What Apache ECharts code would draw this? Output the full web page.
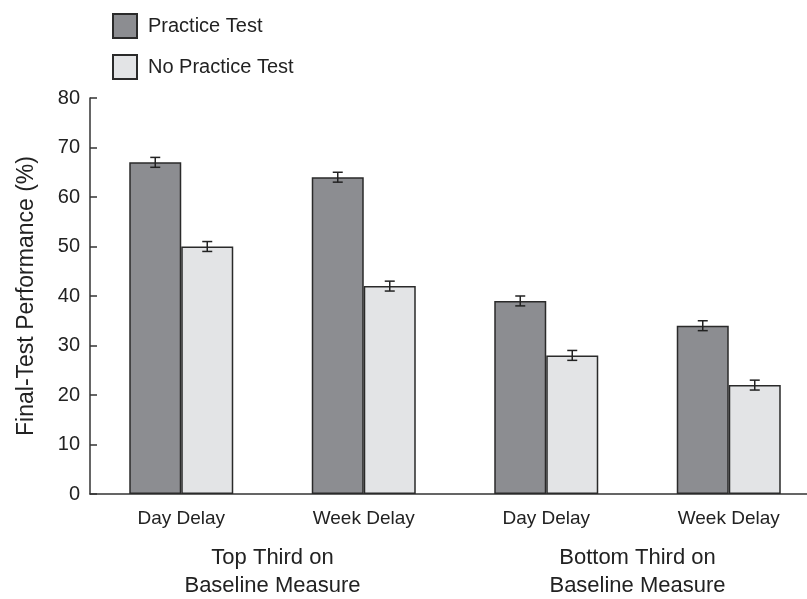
<!DOCTYPE html>
<html><head><meta charset="utf-8">
<script src="https://cdn.jsdelivr.net/npm/echarts@6/dist/echarts.min.js"></script>
<style>html,body{margin:0;padding:0;background:#fff}#c{width:807px;height:599px}</style>
</head><body><div id="c"></div>
<script>
var categories = ['Day Delay', 'Week Delay', 'Day Delay', 'Week Delay'];
var groupLabels = ['Top Third on\nBaseline Measure', 'Bottom Third on\nBaseline Measure'];
var practice = [67, 64, 39, 34];
var practiceErr = [1, 1, 1, 1];
var noPractice = [50, 42, 28, 22];
var noPracticeErr = [1, 1, 1, 1];
var yTicks = [0, 10, 20, 30, 40, 50, 60, 70, 80];

var FONT = '"Liberation Sans Narrow", "Liberation Sans", Arial, sans-serif';
var BW = 52;

function errSeries(vals, errs, off) {
  return {
    type: 'custom', xAxisIndex: 0, z: 10,
    data: vals.map(function (v, i) { return [i, v - errs[i], v + errs[i]]; }),
    renderItem: function (params, api) {
      var lo = api.coord([api.value(0), api.value(1)]);
      var hi = api.coord([api.value(0), api.value(2)]);
      var x = lo[0] + off, c = 5;
      var st = { stroke: '#222', lineWidth: 1.5 };
      return { type: 'group', children: [
        { type: 'line', shape: { x1: x, y1: lo[1], x2: x, y2: hi[1] }, style: st },
        { type: 'line', shape: { x1: x - c, y1: lo[1], x2: x + c, y2: lo[1] }, style: st },
        { type: 'line', shape: { x1: x - c, y1: hi[1], x2: x + c, y2: hi[1] }, style: st }
      ]};
    }
  };
}

var chart = echarts.init(document.getElementById('c'));
chart.setOption({
  animation: false,
  textStyle: { fontFamily: FONT },
  legend: {
    orient: 'vertical', left: 107, top: 8, itemWidth: 24, itemHeight: 24, itemGap: 15,
    icon: 'rect',
    textStyle: { fontFamily: FONT, fontSize: 20, color: '#222', padding: [0, 0, 0, 6] },
    data: ['Practice Test', 'No Practice Test']
  },
  grid: { left: 90, top: 98, width: 730, height: 396, outerBoundsMode: 'none', containLabel: false },
  xAxis: [{
    type: 'category', data: categories,
    axisLine: { lineStyle: { color: '#333', width: 1.5 } },
    axisTick: { show: false },
    axisLabel: { fontFamily: FONT, fontSize: 19, color: '#222', margin: 15 }
  }, {
    type: 'category', data: groupLabels, position: 'bottom',
    axisLine: { show: false }, axisTick: { show: false },
    axisLabel: { fontFamily: FONT, fontSize: 22, color: '#222', margin: 50, lineHeight: 28 }
  }],
  yAxis: {
    type: 'value', min: 0, max: 80, interval: 10,
    name: 'Final-Test Performance (%)', nameLocation: 'middle', nameGap: 52,
    nameTextStyle: { fontFamily: FONT, fontSize: 23, color: '#222' },
    axisLine: { show: true, lineStyle: { color: '#333', width: 1.5 } },
    axisTick: { show: true, inside: true, length: 7, lineStyle: { color: '#333', width: 1.5 } },
    axisLabel: { fontFamily: FONT, fontSize: 20, color: '#222', margin: 10,
      formatter: function (v) { return yTicks.indexOf(v) >= 0 ? String(v) : ''; } },
    splitLine: { show: false }
  },
  series: [{
    name: 'Practice Test', type: 'bar', data: practice, barWidth: BW, barGap: '0%',
    itemStyle: { color: '#8c8d91', borderColor: '#2a2a2a', borderWidth: 1.5 }
  }, {
    name: 'No Practice Test', type: 'bar', data: noPractice, barWidth: BW, barGap: '0%',
    itemStyle: { color: '#e3e4e6', borderColor: '#2a2a2a', borderWidth: 1.5 }
  },
  errSeries(practice, practiceErr, -BW / 2),
  errSeries(noPractice, noPracticeErr, BW / 2)
  ]
});
</script></body></html>
